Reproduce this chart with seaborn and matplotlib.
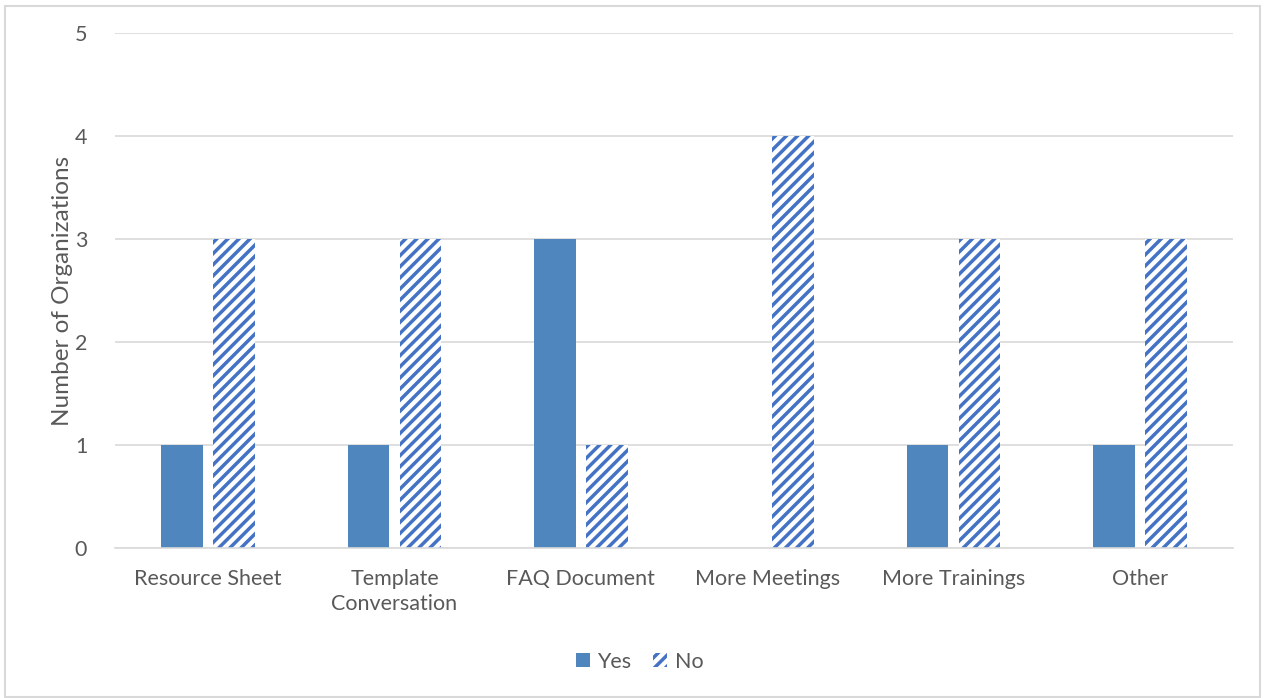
import matplotlib
matplotlib.use("Agg")
import matplotlib.pyplot as plt
import matplotlib.patches as mpatches
import seaborn as sns
import pandas as pd

categories = ["Resource Sheet", "Template\nConversation", "FAQ Document",
              "More Meetings", "More Trainings", "Other"]
yes_values = [1, 1, 3, 0, 1, 1]
no_values = [3, 3, 1, 4, 3, 3]
series = ["Yes", "No"]
y_ticks = [0, 1, 2, 3, 4, 5]

df = pd.DataFrame({
    "category": categories * 2,
    "series": ["Yes"] * len(categories) + ["No"] * len(categories),
    "count": yes_values + no_values,
})

sns.set_theme(style="white")
plt.rcParams["font.family"] = ["Lato", "DejaVu Sans"]
plt.rcParams["hatch.linewidth"] = 2.5

yes_color = "#4F86BE"
no_color = "#4472C4"
text_color = "#595959"
grid_color = "#D9D9D9"
fs = 15.5

fig = plt.figure(figsize=(12.64, 6.98), dpi=100)
ax = fig.add_axes([0.091, 0.215, 0.8845, 0.7377])

sns.barplot(data=df, x="category", y="count", hue="series", hue_order=series,
            palette={"Yes": yes_color, "No": "white"}, width=0.56, gap=0.2,
            saturation=1, legend=False, ax=ax, linewidth=0)

# "No" bars: white fill with diagonal blue stripes
n = len(categories)
for i, patch in enumerate(ax.patches[:2 * n]):
    if i >= n:
        patch.set_facecolor("white")
        patch.set_edgecolor(no_color)
        patch.set_hatch("///")
        patch.set_linewidth(0)

ax.set_ylim(0, 5)
ax.set_xlim(-0.5, n - 0.5)
ax.set_yticks(y_ticks)
ax.yaxis.grid(True, color=grid_color, linewidth=1.2)
ax.set_axisbelow(True)
for s in ["top", "right", "left"]:
    ax.spines[s].set_visible(False)
ax.spines["bottom"].set_color(grid_color)
ax.spines["bottom"].set_linewidth(1.2)
ax.tick_params(axis="both", length=0, labelsize=fs, colors=text_color)
ax.tick_params(axis="x", pad=15)
ax.tick_params(axis="y", pad=20)
for lbl in ax.get_xticklabels():
    lbl.set_linespacing(1.35)
ax.set_xlabel("")
ax.set_ylabel("Number of Organizations", fontsize=17.5, color=text_color, labelpad=1)

handles = [
    mpatches.Patch(facecolor=yes_color, edgecolor=yes_color, linewidth=0, label="Yes"),
    mpatches.Patch(facecolor="white", edgecolor=no_color, hatch="///", linewidth=0, label="No"),
]
fig.legend(handles=handles, loc="center", bbox_to_anchor=(0.506, 0.052), ncol=2,
           frameon=False, fontsize=fs, labelcolor=text_color,
           handlelength=0.65, handleheight=0.65, handletextpad=0.35, columnspacing=1.0)

fig.patches.append(mpatches.Rectangle((0.004, 0.002), 0.993, 0.99, transform=fig.transFigure,
                                      fill=False, edgecolor=grid_color, linewidth=1.5))

fig.savefig("out.png", dpi=100)
